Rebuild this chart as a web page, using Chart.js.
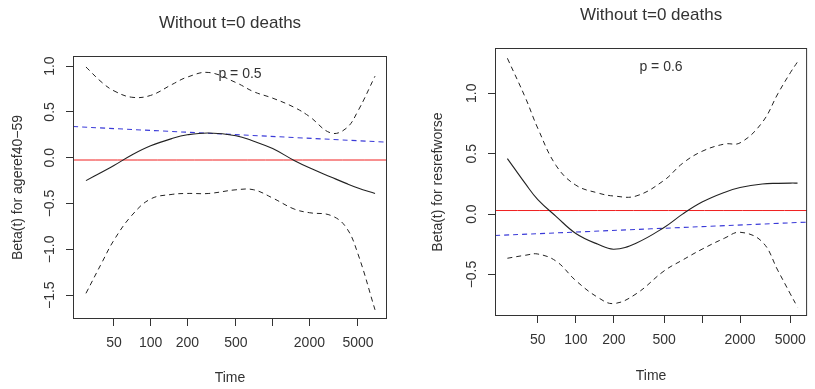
<!DOCTYPE html>
<html>
<head>
<meta charset="utf-8">
<script src="https://cdn.jsdelivr.net/npm/chart.js@4.4.0/dist/chart.umd.min.js"></script>
<style>
  html, body { margin: 0; padding: 0; background: #fff; }
  #wrap { position: relative; width: 815px; height: 389px; }
  .panel { position: absolute; top: 0; height: 389px; }
</style>
</head>
<body>
<div id="wrap">
  <div class="panel" style="left:0;width:408px"><canvas id="left"></canvas></div>
  <div class="panel" style="left:408px;width:407px"><canvas id="right"></canvas></div>
</div>
<script>
// shared axis ticks
var xTicks = [50, 100, 200, 500, 1000, 2000, 5000]
var xTickLabels = ['50', '100', '200', '500', '', '2000', '5000']

// left panel: ageref40-59
var rangeA = [23.1, 8650]
var yRangeA = [-1.76, 1.11]
var yTicksA = [-1.5, -1.0, -0.5, 0.0, 0.5, 1.0]
var timeA = [29.5, 40, 50, 70, 100, 150, 200, 300, 500, 700, 1000, 1500, 2000, 3000, 4000, 5000, 6900]
var upperA = [0.99, 0.82, 0.73, 0.66, 0.68, 0.80, 0.88, 0.93, 0.82, 0.72, 0.65, 0.55, 0.45, 0.27, 0.32, 0.51, 0.89]
var betaA = [-0.25, -0.155, -0.085, 0.03, 0.13, 0.21, 0.25, 0.27, 0.24, 0.18, 0.10, -0.03, -0.11, -0.21, -0.28, -0.33, -0.39]
var lowerA = [-1.48, -1.14, -0.90, -0.63, -0.45, -0.40, -0.39, -0.39, -0.35, -0.35, -0.44, -0.56, -0.60, -0.63, -0.76, -1.05, -1.66]
var zeroA = -0.025
var fitA = [0.34, 0.17]

// right panel: resrefworse
var rangeB = [22.9, 6790]
var yRangeB = [-0.843, 1.375]
var yTicksB = [-0.5, 0.0, 0.5, 1.0]
var timeB = [28.7, 40, 50, 70, 100, 150, 200, 300, 500, 700, 1000, 1500, 2000, 3000, 4000, 5000, 5700]
var upperB = [1.29, 0.96, 0.71, 0.40, 0.24, 0.175, 0.15, 0.15, 0.28, 0.42, 0.52, 0.58, 0.59, 0.76, 1.0, 1.17, 1.26]
var betaB = [0.46, 0.25, 0.12, -0.02, -0.16, -0.25, -0.29, -0.24, -0.11, 0.0, 0.10, 0.18, 0.22, 0.25, 0.255, 0.257, 0.257]
var lowerB = [-0.365, -0.34, -0.33, -0.39, -0.55, -0.69, -0.74, -0.66, -0.47, -0.38, -0.29, -0.20, -0.15, -0.23, -0.47, -0.66, -0.77]
var zeroB = 0.03
var fitB = [-0.177, -0.066]

var FONT = '"Liberation Sans", Arial, Helvetica, sans-serif'
var INK = '#333'

function pts(xs, ys) {
  return xs.map(function (x, i) { return { x: x, y: ys[i] } })
}

function fmt(v) {
  return v.toFixed(1).replace('-', '\u2212')
}

function makePanel(id, cfg) {
  var textPlugin = {
    id: 'rtext',
    afterDraw: function (chart) {
      var ctx = chart.ctx
      var a = chart.chartArea
      var ys = chart.scales.y
      ctx.save()
      // frame around plot
      ctx.strokeStyle = INK
      ctx.lineWidth = 1
      ctx.strokeRect(a.left + 0.5, a.top + 0.5, a.right - a.left - 1, a.bottom - a.top - 1)
      ctx.fillStyle = INK
      // y tick labels, rotated like R
      ctx.font = '14px ' + FONT
      ctx.textAlign = 'center'
      ctx.textBaseline = 'middle'
      cfg.yTicks.forEach(function (v) {
        var py = ys.getPixelForValue(v)
        ctx.save()
        ctx.translate(a.left - 23, py)
        ctx.rotate(-Math.PI / 2)
        ctx.fillText(fmt(v), 0, 0)
        ctx.restore()
      })
      // y axis title
      ctx.save()
      ctx.translate(cfg.ylabX, (a.top + a.bottom) / 2)
      ctx.rotate(-Math.PI / 2)
      ctx.fillText(cfg.ylab, 0, 0)
      ctx.restore()
      // x axis title
      var cx = (a.left + a.right) / 2
      ctx.fillText('Time', cx, cfg.xlabY)
      // p value
      ctx.fillText(cfg.pText, cx + 10, a.top + cfg.pDy)
      // main title
      ctx.font = '17px ' + FONT
      ctx.fillText('Without t=0 deaths', cx, cfg.titleY)
      ctx.restore()
    }
  }

  return new Chart(document.getElementById(id), {
    type: 'line',
    data: {
      datasets: [
        { data: pts(cfg.time, cfg.upper), borderColor: '#222', borderWidth: 1, borderDash: [5, 4] },
        { data: pts(cfg.time, cfg.lower), borderColor: '#222', borderWidth: 1, borderDash: [5, 4] },
        { data: pts(cfg.time, cfg.beta), borderColor: '#222', borderWidth: 1.1 },
        { data: pts(cfg.range, [cfg.zero, cfg.zero]), borderColor: '#f02020', borderWidth: 1 },
        { data: pts(cfg.range, cfg.fit), borderColor: '#3a3ad8', borderWidth: 1.1, borderDash: [5, 4] }
      ]
    },
    options: {
      responsive: true,
      maintainAspectRatio: false,
      animation: false,
      events: [],
      layout: { padding: cfg.padding },
      elements: {
        point: { radius: 0 },
        line: { tension: 0.4, fill: false }
      },
      plugins: { legend: { display: false }, tooltip: { enabled: false } },
      scales: {
        x: {
          type: 'logarithmic',
          min: cfg.range[0],
          max: cfg.range[1],
          afterBuildTicks: function (s) { s.ticks = xTicks.map(function (v) { return { value: v } }) },
          afterFit: function (s) { s.height = cfg.xHeight },
          grid: { drawOnChartArea: false, drawTicks: true, tickLength: 7, color: INK },
          border: { display: false },
          ticks: {
            autoSkip: false,
            maxRotation: 0,
            padding: 9,
            color: INK,
            font: { family: FONT, size: 14 },
            callback: function (v) { var i = xTicks.indexOf(v); return i < 0 ? '' : xTickLabels[i] }
          }
        },
        y: {
          type: 'linear',
          min: cfg.yRange[0],
          max: cfg.yRange[1],
          afterBuildTicks: function (s) { s.ticks = cfg.yTicks.map(function (v) { return { value: v } }) },
          afterFit: function (s) { s.width = cfg.yWidth },
          grid: { drawOnChartArea: false, drawTicks: true, tickLength: 7, color: INK },
          border: { display: false },
          ticks: { display: false }
        }
      }
    },
    plugins: [textPlugin]
  })
}

makePanel('left', {
  time: timeA, upper: upperA, beta: betaA, lower: lowerA,
  zero: zeroA, fit: fitA, range: rangeA, yRange: yRangeA, yTicks: yTicksA,
  ylab: 'Beta(t) for ageref40\u221259', pText: 'p = 0.5',
  padding: { left: 0, right: 21, top: 56, bottom: 0 },
  yWidth: 73, xHeight: 70, ylabX: 18, xlabY: 378, titleY: 23, pDy: 18
})

makePanel('right', {
  time: timeB, upper: upperB, beta: betaB, lower: lowerB,
  zero: zeroB, fit: fitB, range: rangeB, yRange: yRangeB, yTicks: yTicksB,
  ylab: 'Beta(t) for resrefworse', pText: 'p = 0.6',
  padding: { left: 0, right: 2, top: 48, bottom: 0 },
  yWidth: 87, xHeight: 73, ylabX: 30, xlabY: 376, titleY: 15, pDy: 19
})
</script>
</body>
</html>
